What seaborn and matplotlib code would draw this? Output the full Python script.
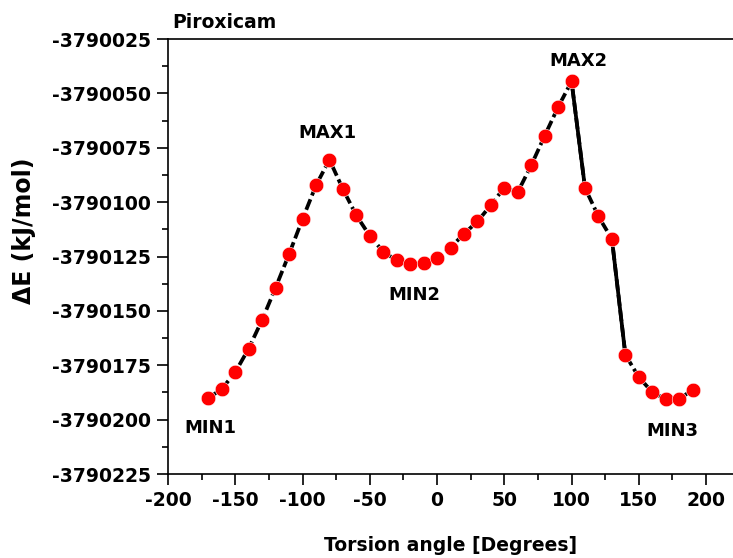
import matplotlib
matplotlib.use("Agg")
import matplotlib.pyplot as plt
from matplotlib.ticker import MultipleLocator, FuncFormatter
import numpy as np
import pandas as pd
import seaborn as sns

# Torsion scan of piroxicam: angle (degrees) vs total energy (kJ/mol)
angles = [-170, -160, -150, -140, -130, -120, -110, -100, -90, -80,
          -70, -60, -50, -40, -30, -20, -10, 0, 10, 20,
          30, 40, 50, 60, 70, 80, 90, 100, 110, 120,
          130, 140, 150, 160, 170, 180, 190]
energies = [-3790190.1, -3790185.9, -3790178.2, -3790167.3, -3790154.1,
            -3790139.3, -3790123.9, -3790107.8, -3790092.3, -3790080.5,
            -3790094.0, -3790106.1, -3790115.5, -3790122.8, -3790126.8,
            -3790128.5, -3790128.0, -3790125.5, -3790120.9, -3790114.6,
            -3790108.9, -3790101.4, -3790093.3, -3790095.4, -3790083.1,
            -3790069.5, -3790056.3, -3790044.5, -3790093.5, -3790106.6,
            -3790117.0, -3790170.2, -3790180.5, -3790187.4, -3790190.6,
            -3790190.5, -3790186.3]

# Steep steps drawn as continuous strokes (start angle, end angle)
solid_steps = [(100, 110), (130, 140)]

# Stationary point labels: text, angle, energy position
point_labels = ["MIN1", "MAX1", "MIN2", "MAX2", "MIN3"]
label_x = [-168.5, -81.5, -16.5, 105.0, 175.0]
label_y = [-3790204.0, -3790068.0, -3790142.8, -3790035.2, -3790205.2]

title_text = "Piroxicam"
x_title = "Torsion angle [Degrees]"
y_title = "\u0394E (kJ/mol)"

df = pd.DataFrame({"angle": angles, "energy": energies})

sns.set_theme(style="ticks")
plt.rcParams["font.family"] = ["DejaVu Sans"]
plt.rcParams["font.weight"] = "bold"
plt.rcParams["text.color"] = "black"
plt.rcParams["axes.labelcolor"] = "black"

fig = plt.figure(figsize=(7.33, 5.58), dpi=100)
ax = fig.add_axes([168 / 733, 1 - 474 / 558, 1 - 168 / 733, (474 - 39) / 558])

sns.lineplot(data=df, x="angle", y="energy", ax=ax, color="black",
             linewidth=2.7, dashes=False, zorder=2)
ax.lines[0].set_dashes((3.0, 1.1))

lookup = dict(zip(angles, energies))
for a0, a1 in solid_steps:
    ax.plot([a0, a1], [lookup[a0], lookup[a1]], color="black",
            linewidth=2.7, solid_capstyle="butt", zorder=2)

sns.scatterplot(data=df, x="angle", y="energy", ax=ax, color="#ff0000",
                s=110, edgecolor="white", linewidth=0.4, zorder=3)

for t, x, y in zip(point_labels, label_x, label_y):
    ax.text(x, y, t, ha="center", va="center", fontsize=13,
            fontweight="bold", color="black")

ax.set_xlim(-200, 220)
ax.set_ylim(-3790225, -3790025)
ax.xaxis.set_major_locator(MultipleLocator(50))
ax.xaxis.set_minor_locator(MultipleLocator(25))
ax.yaxis.set_major_locator(MultipleLocator(25))
ax.yaxis.set_minor_locator(MultipleLocator(12.5))
ax.yaxis.set_major_formatter(FuncFormatter(lambda v, p: f"{v:.0f}"))
ax.xaxis.set_major_formatter(FuncFormatter(lambda v, p: f"{v:.0f}"))

ax.tick_params(which="major", direction="out", length=8, width=1.2,
               labelsize=13.5, pad=4, colors="black")
ax.tick_params(which="minor", direction="out", length=4.5, width=1.2,
               colors="black")
for lab in ax.get_xticklabels() + ax.get_yticklabels():
    lab.set_fontweight("bold")

for side in ["left", "bottom", "top"]:
    ax.spines[side].set_linewidth(1.2)
    ax.spines[side].set_color("black")
ax.spines["right"].set_visible(False)

ax.set_xlabel(x_title, fontsize=13.5, fontweight="bold", labelpad=19)
ax.set_ylabel(y_title, fontsize=17, fontweight="bold")
ax.yaxis.set_label_coords(-0.233, 0.559)
ax.text(0.008, 1.0253, title_text, transform=ax.transAxes, ha="left",
        va="baseline", fontsize=13.5, fontweight="bold", color="black")

fig.savefig("out.png", dpi=100)
